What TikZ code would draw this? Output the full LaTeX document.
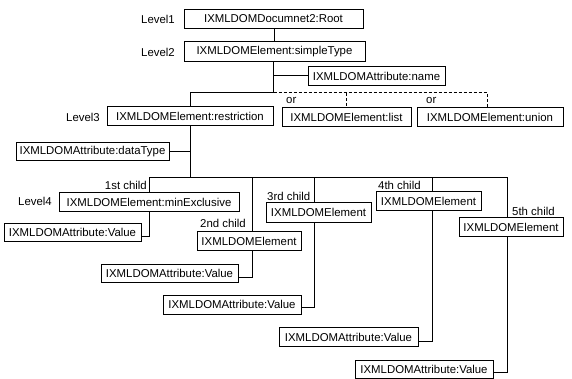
\documentclass[tikz,border=0pt]{standalone}
\usepackage{fontspec}
\setmainfont{Liberation Sans}
\begin{document}
\begin{tikzpicture}[x=1pt,y=-1pt,
  box/.style={draw, line width=1pt, minimum height=19pt, inner sep=0pt, font=\fontsize{11.4}{13}\selectfont},
  lbl/.style={inner sep=0pt, font=\fontsize{11.4}{13}\selectfont},
  conn/.style={line width=1pt},
  dconn/.style={line width=1pt, dashed, dash pattern=on 3pt off 2pt}]
\useasboundingbox (0,0) rectangle (572,379);
% boxes
\node[box, minimum width=179pt] (root) at (273.5,19) {IXMLDOMDocumnet2:Root};
\node[box, minimum width=181pt, minimum height=20pt] (simple) at (274.5,52) {IXMLDOMElement:simpleType};
\node[box, minimum width=137pt] (name) at (376.5,76) {IXMLDOMAttribute:name};
\node[box, minimum width=166pt] (restr) at (190,116) {IXMLDOMElement:restriction};
\node[box, minimum width=129pt] (list) at (346.5,117) {IXMLDOMElement:list};
\node[box, minimum width=146pt] (union) at (490,117) {IXMLDOMElement:union};
\node[box, minimum width=153pt, minimum height=18pt] (dtype) at (92.5,151.5) {IXMLDOMAttribute:dataType};
\node[box, minimum width=180pt] (minex) at (149,202) {IXMLDOMElement:minExclusive};
\node[box, minimum width=137pt, minimum height=18pt] (val1) at (72.5,232) {IXMLDOMAttribute:Value};
\node[box, minimum width=104pt] (el2) at (249,241) {IXMLDOMElement};
\node[box, minimum width=137pt, minimum height=18pt] (val2) at (169.5,273.5) {IXMLDOMAttribute:Value};
\node[box, minimum width=105pt] (el3) at (318.5,212.5) {IXMLDOMElement};
\node[box, minimum width=138pt] (val3) at (232,304.5) {IXMLDOMAttribute:Value};
\node[box, minimum width=105pt] (el4) at (428.5,201.5) {IXMLDOMElement};
\node[box, minimum width=139pt] (val4) at (348.5,337) {IXMLDOMAttribute:Value};
\node[box, minimum width=104pt] (el5) at (511,227) {IXMLDOMElement};
\node[box, minimum width=138pt, minimum height=18pt] (val5) at (424,369) {IXMLDOMAttribute:Value};
% level labels
\node[lbl, anchor=east] (l1) at (175,19) {Level1};
\node[lbl, anchor=east] (l2) at (175,52) {Level2};
\node[lbl, anchor=east] (l3) at (100,117) {Level3};
\node[lbl, anchor=east] (l4) at (52,201) {Level4};
% or labels
\node[lbl, anchor=west] (or1) at (286,100) {or};
\node[lbl, anchor=west] (or2) at (426,100) {or};
% child labels
\node[lbl, anchor=east] (c1) at (147,185) {1st child};
\node[lbl, anchor=west] (c2) at (200,223) {2nd child};
\node[lbl, anchor=west] (c3) at (267,196) {3rd child};
\node[lbl, anchor=west] (c4) at (378,185) {4th child};
\node[lbl, anchor=west] (c5) at (512,211) {5th child};
% junction coordinates
\coordinate (j2) at (273.5,93);
\coordinate (jd) at (487,93);
\coordinate (j3) at (190,178);
\coordinate (jr) at (507,178);
\coordinate (jl) at (149,178);
% connectors
\draw[conn] (root.south) -- (simple.south |- root.south) -- (simple.north);
\draw[conn] (simple.south -| root.south) -- (j2);
\draw[conn] (root.south |- name.west) -- (name.west);
\draw[conn] (j2) -| (restr.north);
\draw[dconn] (j2) -- (jd) -- (jd |- union.north);
\draw[dconn] (list.north |- jd) -- (list.north);
\draw[conn] (restr.south) -- (j3);
\draw[conn] (restr.south |- dtype.east) -- (dtype.east);
\draw[conn] (jl) -- (jr) -- (jr |- el5.north);
\draw[conn] (jl) -- (minex.north);
\draw[conn] (252,178) -- (252,0 |- el2.north);
\draw[conn] (314,178) -- (314,0 |- el3.north);
\draw[conn] (432,178) -- (432,0 |- el4.north);
% value connectors
\draw[conn] (minex.south) |- ([yshift=-4pt]val1.east);
\draw[conn] (252,0 |- el2.south) |- ([yshift=-4pt]val2.east);
\draw[conn] (314,0 |- el3.south) |- ([yshift=-3pt]val3.east);
\draw[conn] (432,0 |- el4.south) |- ([yshift=-4pt]val4.east);
\draw[conn] (507,0 |- el5.south) |- ([yshift=-3pt]val5.east);
\end{tikzpicture}
\end{document}
